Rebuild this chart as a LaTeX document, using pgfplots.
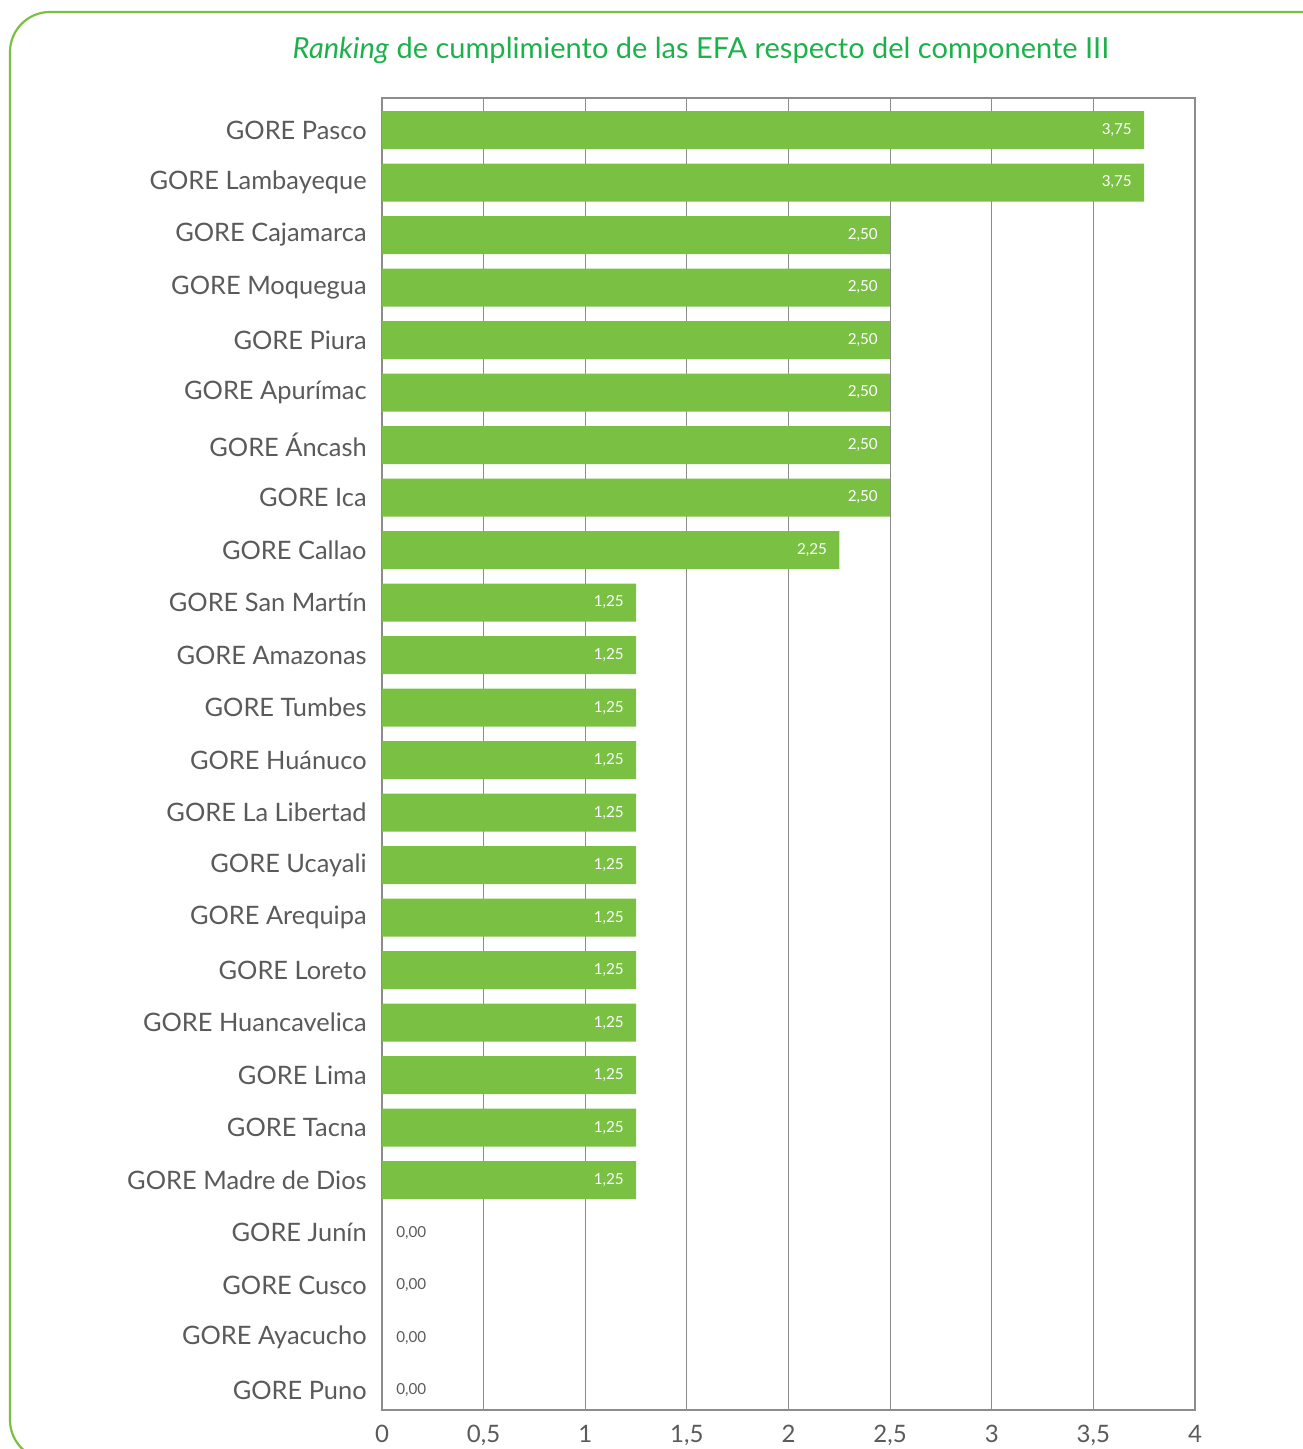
\documentclass[border=0pt]{standalone}
\usepackage{pgfplots}
\pgfplotsset{compat=1.18}
\usetikzlibrary{calc}
\usepackage{fontspec}
\setmainfont{Lato}
\definecolor{barg}{HTML}{7AC143}
\definecolor{frameg}{HTML}{7AC143}
\definecolor{titleg}{HTML}{1DB14B}
\definecolor{txt}{HTML}{5A5A5A}
\definecolor{gridc}{HTML}{8C8C8C}
\begin{document}
\begin{tikzpicture}[x=1pt,y=1pt]
\begin{axis}[scale only axis,
  width=406.5pt, height=656pt,
  xbar, bar width=19pt, bar shift=0pt,
  xmin=0, xmax=4, ymin=-0.38, ymax=24.61,
  xtick={0,0.5,1,1.5,2,2.5,3,3.5,4},
  ytick={0,...,24},
  yticklabels={GORE Puno, GORE Ayacucho, GORE Cusco, GORE Junín, GORE Madre de Dios, GORE Tacna, GORE Lima, GORE Huancavelica, GORE Loreto, GORE Arequipa, GORE Ucayali, GORE La Libertad, GORE Huánuco, GORE Tumbes, GORE Amazonas, GORE San Martín, GORE Callao, GORE Ica, GORE Áncash, GORE Apurímac, GORE Piura, GORE Moquegua, GORE Cajamarca, GORE Lambayeque, GORE Pasco},
  /pgf/number format/use comma,
  /pgf/number format/assume math mode=true,
  major tick length=0pt,
  xmajorgrids, grid style={gridc, line width=0.6pt},
  axis line style={gridc, line width=0.8pt},
  yticklabel style={inner sep=0pt, xshift=-7.5pt, text=txt, font=\fontsize{12.7}{13}\selectfont},
  xticklabel style={inner sep=0pt, yshift=-7.5pt, text=txt, font=\fontsize{12}{12}\selectfont},
  point meta=x,
]
\coordinate (O) at (rel axis cs:0,0);
\addplot[fill=barg, draw=none,
  nodes near coords={\pgfmathprintnumber[fixed,fixed zerofill,precision=2,use comma]{\pgfplotspointmeta}},
  every node near coord/.append style={anchor=east, text=white, font=\fontsize{7.6}{8}\selectfont, inner sep=0pt, xshift=-6pt}]
coordinates {(3.75,24) (3.75,23) (2.5,22) (2.5,21) (2.5,20) (2.5,19) (2.5,18) (2.5,17) (2.25,16)
 (1.25,15) (1.25,14) (1.25,13) (1.25,12) (1.25,11) (1.25,10) (1.25,9) (1.25,8) (1.25,7) (1.25,6) (1.25,5) (1.25,4)};
\addplot[fill=none, draw=none,
  nodes near coords={\pgfmathprintnumber[fixed,fixed zerofill,precision=2,use comma]{\pgfplotspointmeta}},
  every node near coord/.append style={anchor=west, text=txt, font=\fontsize{7.6}{8}\selectfont, inner sep=0pt, xshift=7pt}]
coordinates {(0,3) (0,2) (0,1) (0,0)};
\end{axis}
\pgfresetboundingbox
\path[use as bounding box] ($(O)+(-191,-19.5)$) rectangle ($(O)+(460,705)$);
\begin{scope}[shift={(O)}]
\draw[frameg, line width=1.1pt, rounded corners=20pt] (520,699) -- (-186,699) -- (-186,-25) -- (-60,-25);
\node[titleg, font=\fontsize{14.5}{16}\selectfont] at (159.5,680) {\textit{Ranking} de cumplimiento de las EFA respecto del componente III};
\end{scope}
\end{tikzpicture}
\end{document}
